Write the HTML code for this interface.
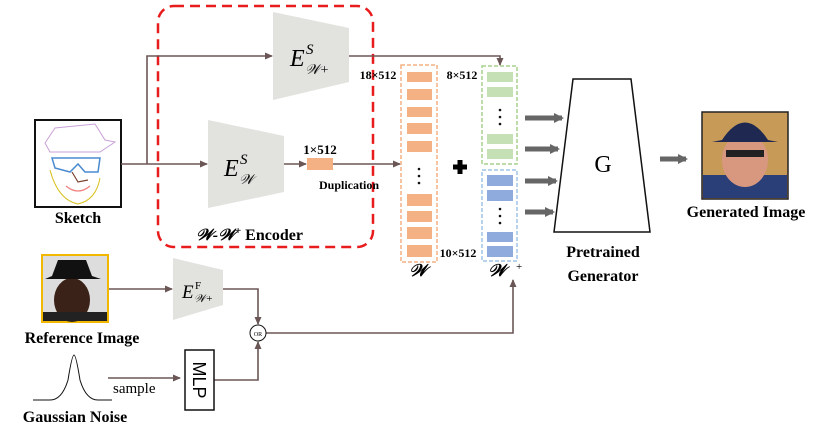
<!DOCTYPE html>
<html><head><meta charset="utf-8"><style>
html,body{margin:0;padding:0;background:#fff;}
svg{display:block;font-family:"Liberation Serif",serif;}
.b{font-weight:bold;}
</style></head><body>
<svg width="830" height="434" viewBox="0 0 830 434" xmlns="http://www.w3.org/2000/svg">
<defs>
<marker id="a" markerWidth="8" markerHeight="8" refX="7" refY="4" orient="auto" markerUnits="userSpaceOnUse"><path d="M0,0.5 L8,4 L0,7.5 z" fill="#6b5656"/></marker>
<marker id="g" markerWidth="10" markerHeight="10" refX="8" refY="5" orient="auto" markerUnits="userSpaceOnUse"><path d="M0,0 L10,5 L0,10 z" fill="#666"/></marker>
</defs>
<!-- red dashed box -->
<rect x="158" y="6" width="215" height="241" rx="16" fill="none" stroke="#e81c1c" stroke-width="2.5" stroke-dasharray="10,6"/>
<!-- encoders -->
<polygon points="273,12 349,28 349,82 273,100" fill="#e2e2df"/>
<polygon points="208,120 284,136 284,192 208,208" fill="#e2e2df"/>
<text x="290" y="66" font-size="24" font-style="italic">E</text><text x="306" y="54" font-size="15" font-style="italic">S</text><text x="305" y="74" font-size="14" font-style="italic">𝒲+</text>
<text x="224" y="176" font-size="24" font-style="italic">E</text><text x="240" y="164" font-size="15" font-style="italic">S</text><text x="239" y="184" font-size="14" font-style="italic">𝒲</text>
<!-- sketch -->
<rect x="35" y="120" width="86" height="87" fill="#fff" stroke="#111" stroke-width="2"/>
<path d="M45,143 L55,128 L95,124 L105,140 L115,142 L100,152 L50,152 Z" fill="none" stroke="#c9a0d8" stroke-width="1"/>
<path d="M52,158 L100,158 L98,172 L85,172 L78,164 L70,172 L55,168 Z" fill="none" stroke="#4a8ad0" stroke-width="1.5"/>
<path d="M72,172 L78,182 L88,180" fill="none" stroke="#7a4030" stroke-width="1.2"/>
<path d="M66,186 Q78,196 90,186" fill="none" stroke="#f08080" stroke-width="1.2"/>
<path d="M50,170 Q58,200 78,204 Q96,200 100,178" fill="none" stroke="#d8c020" stroke-width="1"/>
<text x="78" y="223" font-size="16" class="b" text-anchor="middle">Sketch</text>
<!-- connectors -->
<g stroke="#6b5656" stroke-width="1.6" fill="none">
<path d="M121,164 L207,164" marker-end="url(#a)"/>
<path d="M147,164 L147,56 L272,56" marker-end="url(#a)"/>
<path d="M349,56 L500,56 L500,65" marker-end="url(#a)"/>
<path d="M284,164 L306,164" marker-end="url(#a)"/>
<path d="M333,164 L400,164" marker-end="url(#a)"/>
<path d="M108,289 L172,289" marker-end="url(#a)"/>
<path d="M223,289 L258,289 L258,324" marker-end="url(#a)"/>
<path d="M108,378 L180,378" marker-end="url(#a)"/>
<path d="M214,380 L258,380 L258,342" marker-end="url(#a)"/>
<path d="M266,333 L513,333 L513,280" marker-end="url(#a)"/>
</g>
<rect x="307" y="158" width="26" height="12" fill="#f4b183"/>
<text x="320" y="154" font-size="13" class="b" text-anchor="middle">1×512</text>
<text x="319" y="189" font-size="12" class="b">Duplication</text>
<text x="157" y="240" font-size="16" class="b" font-style="italic" text-anchor="start" x2="0"><tspan x="196" font-style="italic">𝒲-𝒲</tspan><tspan dy="-6" font-size="11">+</tspan><tspan dy="6" font-style="normal"> Encoder</tspan></text>
<!-- W box -->
<rect x="401" y="65" width="36" height="197" fill="none" stroke="#f4b183" stroke-width="1.5" stroke-dasharray="4,2"/>
<g fill="#f4b183">
<rect x="407" y="72" width="25" height="10"/><rect x="407" y="89" width="25" height="11"/><rect x="407" y="107" width="25" height="10"/><rect x="407" y="123" width="25" height="11"/><rect x="407" y="141" width="25" height="11"/>
<rect x="407" y="194" width="25" height="12"/><rect x="407" y="211" width="25" height="11"/><rect x="407" y="227" width="25" height="12"/><rect x="407" y="245" width="25" height="12"/>
</g>
<g fill="#111"><circle cx="419" cy="169" r="1.3"/><circle cx="419" cy="176" r="1.3"/><circle cx="419" cy="183" r="1.3"/>
<circle cx="500" cy="110" r="1.3"/><circle cx="500" cy="117" r="1.3"/><circle cx="500" cy="124" r="1.3"/>
<circle cx="500" cy="209" r="1.3"/><circle cx="500" cy="216" r="1.3"/><circle cx="500" cy="223" r="1.3"/></g>
<!-- W+ boxes -->
<rect x="482" y="66" width="35" height="98" fill="none" stroke="#a9d18e" stroke-width="1.5" stroke-dasharray="4,2"/>
<g fill="#c5e0b4"><rect x="487" y="72" width="26" height="10"/><rect x="487" y="87" width="26" height="10"/><rect x="487" y="134" width="26" height="10"/><rect x="487" y="149" width="26" height="10"/></g>
<rect x="482" y="170" width="35" height="91" fill="none" stroke="#9dc3e6" stroke-width="1.5" stroke-dasharray="4,2"/>
<g fill="#8faadc"><rect x="487" y="175" width="26" height="11"/><rect x="487" y="190" width="26" height="11"/><rect x="487" y="232" width="26" height="10"/><rect x="487" y="246" width="26" height="11"/></g>
<text x="378" y="79" font-size="12" class="b" text-anchor="middle">18×512</text>
<text x="462" y="79" font-size="12" class="b" text-anchor="middle">8×512</text>
<text x="458" y="257" font-size="12" class="b" text-anchor="middle">10×512</text>
<path d="M460,160 v14 M453,167 h14" stroke="#000" stroke-width="5"/>
<text x="418" y="276" font-size="17" class="b" font-style="italic" text-anchor="middle">𝒲</text>
<text x="497" y="276" font-size="17" class="b" font-style="italic" text-anchor="middle">𝒲</text><text x="516" y="270" font-size="11">+</text>
<!-- arrows to G -->
<g stroke="#666" stroke-width="5"><path d="M525,118 L562,118" marker-end="url(#g)"/><path d="M525,149 L558,149" marker-end="url(#g)"/><path d="M525,181 L556,181" marker-end="url(#g)"/><path d="M525,212 L553,212" marker-end="url(#g)"/><path d="M660,159 L686,159" marker-end="url(#g)"/></g>
<polygon points="573,79 631,79 650,232 554,232" fill="#fff" stroke="#111" stroke-width="1.5"/>
<text x="603" y="172" font-size="24" text-anchor="middle">G</text>
<text x="603" y="257" font-size="16" class="b" text-anchor="middle">Pretrained</text>
<text x="603" y="281" font-size="16" class="b" text-anchor="middle">Generator</text>
<!-- generated image -->
<rect x="702" y="112" width="86" height="87" fill="#c89a58" stroke="#222" stroke-width="1.5"/>
<rect x="703" y="175" width="84" height="23" fill="#2a3f78"/>
<ellipse cx="745" cy="160" rx="23" ry="27" fill="#d89880"/>
<path d="M722,140 Q745,105 768,140 L778,142 L712,142 Z" fill="#1e2850"/>
<rect x="726" y="150" width="38" height="7" fill="#222"/>
<text x="746" y="217" font-size="16" class="b" text-anchor="middle">Generated Image</text>
<!-- reference image -->
<rect x="42" y="255" width="66" height="67" fill="#ddd" stroke="#f2b800" stroke-width="2"/>
<ellipse cx="72" cy="300" rx="18" ry="22" fill="#3a2218"/>
<path d="M52,276 L58,260 L86,260 L92,276 L101,279 L45,279 Z" fill="#111"/>
<rect x="43" y="312" width="64" height="9" fill="#222"/>
<text x="82" y="343" font-size="16" class="b" text-anchor="middle">Reference Image</text>
<polygon points="173,258 223,270 223,305 173,320" fill="#e2e2df"/>
<text x="182" y="298" font-size="19" font-style="italic">E</text><text x="195" y="289" font-size="11">F</text><text x="194" y="302" font-size="11" font-style="italic">𝒲+</text>
<circle cx="258" cy="333" r="8" fill="#fff" stroke="#111" stroke-width="1"/>
<text x="258" y="336" font-size="6" text-anchor="middle">OR</text>
<!-- gaussian -->
<path d="M33,400 L50,400 Q62,400 68,380 Q72,355 74,355 Q76,355 80,380 Q86,400 98,400 L112,400" fill="none" stroke="#111" stroke-width="1"/>
<text x="75" y="422" font-size="16" class="b" text-anchor="middle">Gaussian Noise</text>
<text x="113" y="393" font-size="15">sample</text>
<rect x="185" y="350" width="29" height="60" fill="#fff" stroke="#111" stroke-width="1.5"/>
<text x="0" y="0" font-size="18" font-family="Liberation Sans, sans-serif" text-anchor="middle" transform="translate(193,380) rotate(90)">MLP</text>
</svg>
</body></html>
